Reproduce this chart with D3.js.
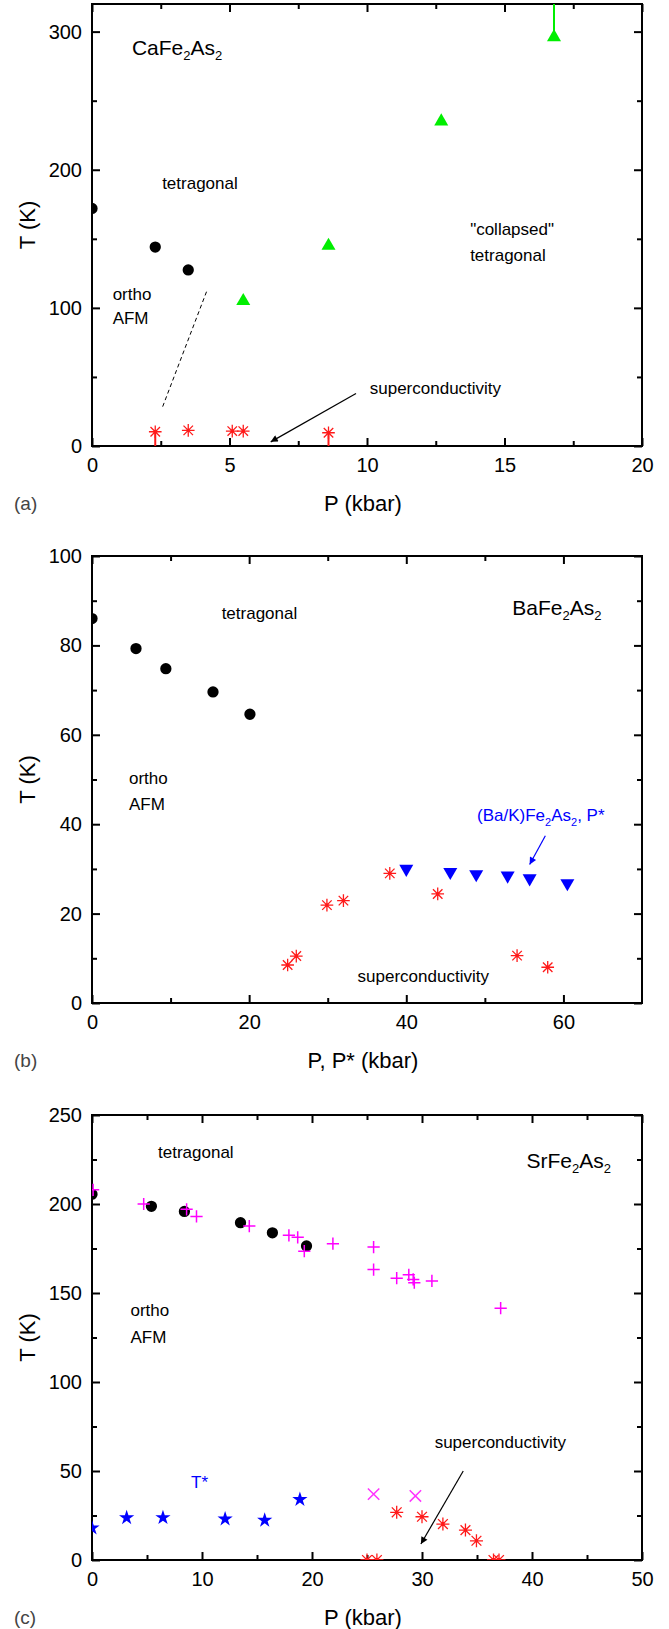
<!DOCTYPE html>
<html>
<head>
<meta charset="utf-8">
<script src="https://cdn.jsdelivr.net/npm/d3@7"></script>
<style>
  body { margin: 0; background: #fff; }
  svg { display: block; font-family: "Liberation Sans", Arial, sans-serif; }
</style>
</head>
<body>
<div id="chart"></div>
<script>
// ---------- (a) CaFe2As2 ----------
const caXTicks = [0, 5, 10, 15, 20];
const caYTicks = [0, 100, 200, 300];
const caOrthoP = [0, 2.3, 3.5];
const caOrthoT = [172, 144, 127.5];
const caCollapsedP = [5.5, 8.6, 12.7, 16.8];
const caCollapsedT = [105, 145, 235, 296];
const caScP = [2.3, 3.5, 5.1, 5.5, 8.6];
const caScT = [10.3, 11.3, 10.8, 10.8, 9.6];

// ---------- (b) BaFe2As2 ----------
const baXTicks = [0, 20, 40, 60];
const baYTicks = [0, 20, 40, 60, 80, 100];
const baOrthoP = [0, 5.6, 9.4, 15.4, 20.1];
const baOrthoT = [86, 79.3, 74.8, 69.6, 64.6];
const baScP = [24.9, 26.0, 29.9, 32.0, 37.9, 44.0, 54.1, 58.0];
const baScT = [8.5, 10.5, 21.9, 22.9, 29.0, 24.4, 10.6, 8.0];
const baKP = [40.0, 45.6, 48.9, 52.9, 55.7, 60.5];
const baKT = [30.0, 29.3, 28.8, 28.5, 27.9, 26.8];

// ---------- (c) SrFe2As2 ----------
const srXTicks = [0, 10, 20, 30, 40, 50];
const srYTicks = [0, 50, 100, 150, 200, 250];
const srOrthoP = [0, 5.4, 8.4, 13.5, 16.4, 19.5];
const srOrthoT = [205.5, 198.7, 195.8, 189.5, 183.8, 176.4];
const srPlusP = [0.1, 4.7, 8.6, 9.5, 14.3, 17.9, 18.7, 19.3, 21.9, 25.6, 25.6, 27.7, 28.8, 29.2, 29.3, 30.9, 37.15];
const srPlusT = [208, 200, 197, 193, 187.6, 182.4, 181.3, 173.5, 177.7, 175.8, 163.2, 158.3, 160.2, 157.6, 155.8, 156.8, 141.5];
const srStarP = [0, 3.15, 6.45, 12.1, 15.7, 18.9];
const srStarT = [18, 23.7, 23.8, 23, 22.3, 34];
const srTimesP = [25.6, 29.4];
const srTimesT = [37, 36];
const srScP = [27.7, 30, 31.9, 33.95, 34.95, 25, 25.9, 36.5, 37];
const srScT = [26.8, 24.3, 20.2, 16.8, 10.8, 0, 0, 0, 0];

const W = 669, H = 1629;
const plotLeft = 92, plotRight = 642;
const fontTick = 20, fontTitle = 22, fontNote = 17, fontFormula = 21;

const svg = d3.select("#chart").append("svg")
    .attr("width", W)
    .attr("height", H);

const defs = svg.append("defs");
["black", "blue"].forEach(c => {
    defs.append("marker")
        .attr("id", "arrow-" + c)
        .attr("viewBox", "0 0 10 10")
        .attr("refX", 10).attr("refY", 5)
        .attr("markerWidth", 11).attr("markerHeight", 7)
        .attr("markerUnits", "userSpaceOnUse")
        .attr("orient", "auto")
        .append("path")
        .attr("d", "M0,0L10,5L0,10z")
        .attr("fill", c);
});

// custom stroke symbols
const plusSym = { draw(ctx, s) { const r = Math.sqrt(s) / 2; ctx.moveTo(-r, 0); ctx.lineTo(r, 0); ctx.moveTo(0, -r); ctx.lineTo(0, r); } };
const timesSym = { draw(ctx, s) { const r = Math.sqrt(s) / 2; ctx.moveTo(-r, -r); ctx.lineTo(r, r); ctx.moveTo(-r, r); ctx.lineTo(r, -r); } };
const asterSym = { draw(ctx, s) {
    const r = Math.sqrt(s) / 2, d = r * 0.75;
    ctx.moveTo(-r, 0); ctx.lineTo(r, 0); ctx.moveTo(0, -r); ctx.lineTo(0, r);
    ctx.moveTo(-d, -d); ctx.lineTo(d, d); ctx.moveTo(-d, d); ctx.lineTo(d, -d);
} };

function drawPanel(p) {
    const x = d3.scaleLinear().domain(p.xDomain).range([plotLeft, plotRight]);
    const y = d3.scaleLinear().domain(p.yDomain).range([p.bottom, p.top]);
    const g = svg.append("g");

    const clipId = "clip-" + p.id;
    defs.append("clipPath").attr("id", clipId)
        .append("rect")
        .attr("x", plotLeft).attr("y", p.top)
        .attr("width", plotRight - plotLeft).attr("height", p.bottom - p.top);

    const xStep = p.xTicks[1] - p.xTicks[0];
    const yStep = p.yTicks[1] - p.yTicks[0];
    const xMinor = d3.range(p.xTicks[0] + xStep / 2, p.xDomain[1], xStep);
    const yMinor = d3.range(p.yTicks[0] + yStep / 2, p.yDomain[1], yStep);

    const axes = [
        [d3.axisBottom, x, `translate(0,${p.bottom})`, true],
        [d3.axisTop, x, `translate(0,${p.top})`, false],
        [d3.axisLeft, y, `translate(${plotLeft},0)`, true],
        [d3.axisRight, y, `translate(${plotRight},0)`, false]
    ];
    axes.forEach(([axisFn, sc, tr, labelled]) => {
        const isX = sc === x;
        g.append("g")
            .attr("transform", tr)
            .call(axisFn(sc).tickValues(isX ? p.xTicks : p.yTicks)
                .tickSizeInner(-8).tickSizeOuter(0)
                .tickPadding(isX ? 12 : 10)
                .tickFormat(labelled ? d3.format("d") : ""))
            .call(a => a.select(".domain").remove())
            .call(a => a.selectAll(".tick line").attr("stroke-width", 2))
            .call(a => a.selectAll("text")
                .attr("font-size", fontTick)
                .attr("font-family", "Liberation Sans, Arial, sans-serif")
                .attr("fill", "#000"));
        g.append("g")
            .attr("transform", tr)
            .call(axisFn(sc).tickValues(isX ? xMinor : yMinor)
                .tickSizeInner(-5).tickSizeOuter(0).tickFormat(""))
            .call(a => a.select(".domain").remove())
            .call(a => a.selectAll(".tick line").attr("stroke-width", 2));
    });

    g.append("rect")
        .attr("x", plotLeft).attr("y", p.top)
        .attr("width", plotRight - plotLeft).attr("height", p.bottom - p.top)
        .attr("fill", "none").attr("stroke", "#000").attr("stroke-width", 2);

    // axis titles
    g.append("text")
        .attr("x", (plotLeft + plotRight) / 2 - 4)
        .attr("y", p.bottom + 65)
        .attr("text-anchor", "middle")
        .attr("font-size", fontTitle)
        .text(p.xTitle);
    g.append("text")
        .attr("x", 14)
        .attr("y", p.bottom + 64)
        .attr("font-size", 19)
        .attr("fill", "#444")
        .text(p.letter);
    g.append("text")
        .attr("transform", `translate(35,${(p.top + p.bottom) / 2}) rotate(-90)`)
        .attr("text-anchor", "middle")
        .attr("font-size", fontTitle)
        .text("T (K)");

    const plot = g.append("g").attr("clip-path", `url(#${clipId})`);

    (p.lines || []).forEach(l => {
        plot.append("line")
            .attr("x1", x(l.from[0])).attr("y1", y(l.from[1]))
            .attr("x2", x(l.to[0])).attr("y2", y(l.to[1]))
            .attr("stroke", l.color)
            .attr("stroke-width", l.width || 1)
            .attr("stroke-dasharray", l.dash || null);
    });

    p.series.forEach(s => {
        const pts = d3.zip(s.xs, s.ys);
        const sym = d3.symbol().type(s.type).size(s.size);
        plot.append("g")
            .selectAll("path")
            .data(pts)
            .join("path")
            .attr("transform", d => `translate(${x(d[0])},${y(d[1])})${s.rotate ? " rotate(180)" : ""}`)
            .attr("d", sym)
            .attr("fill", s.stroke ? "none" : s.color)
            .attr("stroke", s.stroke ? s.color : "none")
            .attr("stroke-width", s.stroke || 0);
        if (s.dots) {
            plot.append("g").selectAll("circle").data(pts).join("circle")
                .attr("cx", d => x(d[0])).attr("cy", d => y(d[1]))
                .attr("r", 1.6).attr("fill", s.color);
        }
    });

    (p.arrows || []).forEach(a => {
        g.append("line")
            .attr("x1", x(a.from[0])).attr("y1", y(a.from[1]))
            .attr("x2", x(a.to[0])).attr("y2", y(a.to[1]))
            .attr("stroke", a.color).attr("stroke-width", 1.2)
            .attr("marker-end", `url(#arrow-${a.color})`);
    });

    (p.notes || []).forEach(n => {
        const t = g.append("text")
            .attr("x", x(n.at[0])).attr("y", y(n.at[1]))
            .attr("font-size", n.size || fontNote)
            .attr("fill", n.color || "#000");
        n.parts.forEach(([str, sub], i) => {
            const prevSub = i > 0 && n.parts[i - 1][1];
            t.append("tspan")
                .attr("dy", sub ? 5 : (prevSub ? -5 : 0))
                .attr("font-size", sub ? Math.round((n.size || fontNote) * 0.62) : null)
                .text(str);
        });
    });
}

drawPanel({
    id: "a", letter: "(a)", xTitle: "P (kbar)",
    top: 4, bottom: 446, xDomain: [0, 20], yDomain: [0, 320],
    xTicks: caXTicks, yTicks: caYTicks,
    lines: [
        { from: [2.57, 28.5], to: [4.17, 112], color: "#000", dash: "4,3" },
        { from: [2.3, 10.3], to: [2.3, 0], color: "#ff1a1a", width: 2 },
        { from: [8.6, 9.6], to: [8.6, 0], color: "#ff1a1a", width: 2 },
        { from: [16.8, 296], to: [16.8, 330], color: "#00ee00", width: 2 }
    ],
    series: [
        { xs: caOrthoP, ys: caOrthoT, type: d3.symbolCircle, size: 100, color: "#000" },
        { xs: caCollapsedP, ys: caCollapsedT, type: d3.symbolTriangle, size: 85, color: "#00ee00" },
        { xs: caScP, ys: caScT, type: asterSym, size: 160, color: "#ff1a1a", stroke: 1.3, dots: true }
    ],
    arrows: [{ from: [9.6, 38], to: [6.5, 3], color: "black" }],
    notes: [
        { at: [1.45, 283], size: fontFormula, parts: [["CaFe", 0], ["2", 1], ["As", 0], ["2", 1]] },
        { at: [2.55, 186], parts: [["tetragonal", 0]] },
        { at: [13.75, 153], parts: [["\"collapsed\"", 0]] },
        { at: [13.75, 134], parts: [["tetragonal", 0]] },
        { at: [0.75, 106], parts: [["ortho", 0]] },
        { at: [0.75, 88], parts: [["AFM", 0]] },
        { at: [10.1, 38], parts: [["superconductivity", 0]] }
    ]
});

drawPanel({
    id: "b", letter: "(b)", xTitle: "P, P* (kbar)",
    top: 556, bottom: 1003, xDomain: [0, 70], yDomain: [0, 100],
    xTicks: baXTicks, yTicks: baYTicks,
    series: [
        { xs: baOrthoP, ys: baOrthoT, type: d3.symbolCircle, size: 100, color: "#000" },
        { xs: baScP, ys: baScT, type: asterSym, size: 160, color: "#ff1a1a", stroke: 1.3, dots: true },
        { xs: baKP, ys: baKT, type: d3.symbolTriangle, size: 85, color: "#0000ff", rotate: true }
    ],
    arrows: [{ from: [57.7, 37.4], to: [55.7, 31.0], color: "blue" }],
    notes: [
        { at: [53.5, 86.8], size: fontFormula, parts: [["BaFe", 0], ["2", 1], ["As", 0], ["2", 1]] },
        { at: [16.5, 85.8], parts: [["tetragonal", 0]] },
        { at: [4.7, 49], parts: [["ortho", 0]] },
        { at: [4.7, 43.2], parts: [["AFM", 0]] },
        { at: [49, 40.8], color: "#0000ff", parts: [["(Ba/K)Fe", 0], ["2", 1], ["As", 0], ["2", 1], [", P*", 0]] },
        { at: [33.8, 4.8], parts: [["superconductivity", 0]] }
    ]
});

drawPanel({
    id: "c", letter: "(c)", xTitle: "P (kbar)",
    top: 1115, bottom: 1560, xDomain: [0, 50], yDomain: [0, 250],
    xTicks: srXTicks, yTicks: srYTicks,
    series: [
        { xs: srOrthoP, ys: srOrthoT, type: d3.symbolCircle, size: 100, color: "#000" },
        { xs: srPlusP, ys: srPlusT, type: plusSym, size: 150, color: "#ff00ff", stroke: 1.5 },
        { xs: srStarP, ys: srStarT, type: d3.symbolStar, size: 72, color: "#0000ff" },
        { xs: srTimesP, ys: srTimesT, type: timesSym, size: 130, color: "#ff33ff", stroke: 1.5 },
        { xs: srScP, ys: srScT, type: asterSym, size: 170, color: "#ff1a1a", stroke: 1.3, dots: true }
    ],
    arrows: [{ from: [33.75, 50], to: [29.9, 9], color: "black" }],
    notes: [
        { at: [39.5, 220.5], size: fontFormula, parts: [["SrFe", 0], ["2", 1], ["As", 0], ["2", 1]] },
        { at: [6.0, 226], parts: [["tetragonal", 0]] },
        { at: [3.5, 137], parts: [["ortho", 0]] },
        { at: [3.5, 122], parts: [["AFM", 0]] },
        { at: [9.0, 40.5], color: "#0000ff", parts: [["T*", 0]] },
        { at: [31.15, 63], parts: [["superconductivity", 0]] }
    ]
});
</script>
</body>
</html>
